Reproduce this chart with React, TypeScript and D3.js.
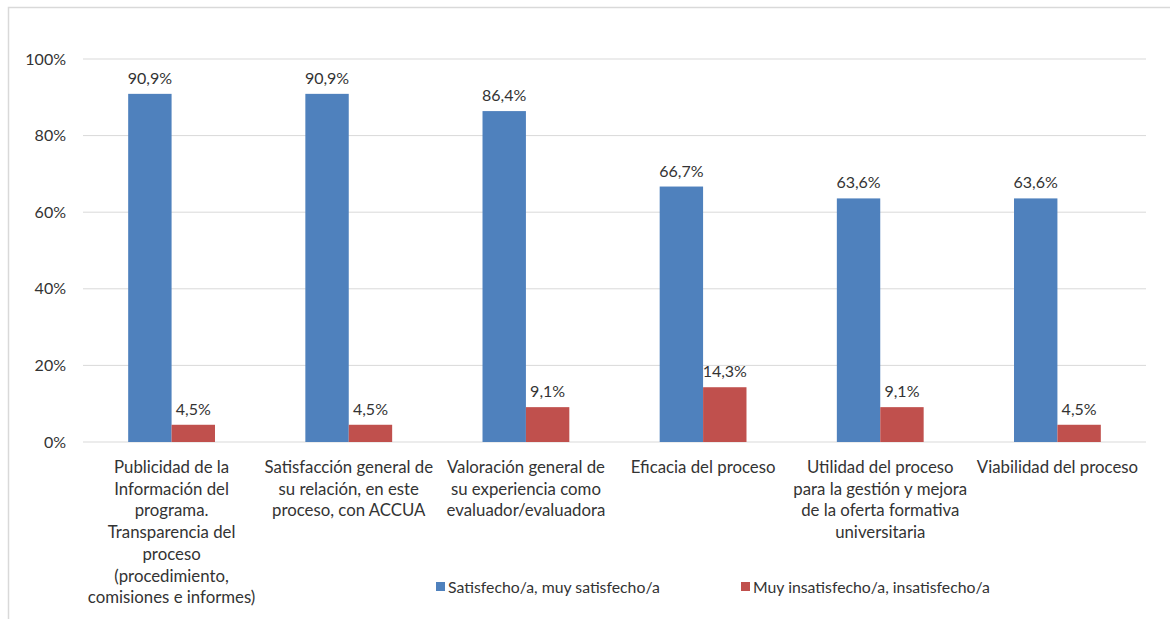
import React from "react";
import * as d3 from "d3";

const categories: string[][] = [
  ["Publicidad de la", "Información del", "programa.", "Transparencia del", "proceso", "(procedimiento,", "comisiones e informes)"],
  ["Satisfacción general de", "su relación, en este", "proceso, con ACCUA"],
  ["Valoración general de", "su experiencia como", "evaluador/evaluadora"],
  ["Eficacia del proceso"],
  ["Utilidad del proceso", "para la gestión y mejora", "de la oferta formativa", "universitaria"],
  ["Viabilidad del proceso"],
];
const satisfied = [90.9, 90.9, 86.4, 66.7, 63.6, 63.6];
const unsatisfied = [4.5, 4.5, 9.1, 14.3, 9.1, 4.5];
const seriesNames = ["Satisfecho/a, muy satisfecho/a", "Muy insatisfecho/a, insatisfecho/a"];
const yTicks = [0, 20, 40, 60, 80, 100];

const W = 1170, H = 619;
const left = 83, right = 1146, top = 59, bottom = 442;
const colors = ["#4f81bd", "#c0504d"];
const font = "Lato, 'Open Sans', sans-serif";
const textColor = "#333";

export default function App() {
  const idx = categories.map((_, i) => String(i));
  const x = d3.scaleBand().domain(idx).range([left, right]).paddingInner(0.51).paddingOuter(0.255);
  const y = d3.scaleLinear().domain([0, 100]).range([bottom, top]);
  const bw = x.bandwidth() / 2;
  const fmt = (v: number) => v.toFixed(1).replace(".", ",") + "%";
  const series = [satisfied, unsatisfied];
  const step = (right - left) / categories.length;
  return (
    <svg width={W} height={H} style={{ position: "absolute", left: 0, top: 0, display: "block" }}>
      <rect x={0} y={0} width={W} height={H} fill="#fff" />
      <rect x={8.5} y={7.5} width={W} height={H} fill="none" stroke="#d9d9d9" strokeWidth={1.5} />
      {yTicks.map((t) => (
        <g key={t}>
          <line x1={left} x2={right} y1={y(t)} y2={y(t)} stroke="#d9d9d9" strokeWidth={1} />
          <text x={66} y={y(t)} dy="0.35em" textAnchor="end" fontFamily={font} fontSize={16} fill={textColor}>
            {t + "%"}
          </text>
        </g>
      ))}
      {series.map((vals, s) =>
        vals.map((v, i) => {
          const bx = (x(String(i)) as number) + s * bw;
          return (
            <g key={s + "-" + i}>
              <rect x={bx} y={y(v)} width={bw} height={bottom - y(v)} fill={colors[s]} />
              <text x={bx + bw / 2} y={y(v) - 10} textAnchor="middle" fontFamily={font} fontSize={16} fill={textColor}>
                {fmt(v)}
              </text>
            </g>
          );
        })
      )}
      {categories.map((lines, i) => {
        const cx = left + step * (i + 0.5);
        return (
          <text key={i} x={cx} y={473} textAnchor="middle" fontFamily={font} fontSize={16.8} fill={textColor}>
            {lines.map((l, j) => (
              <tspan key={j} x={cx} dy={j === 0 ? 0 : 21.7}>{l}</tspan>
            ))}
          </text>
        );
      })}
      {seriesNames.map((n, s) => {
        const lx = s === 0 ? 436 : 741;
        return (
          <g key={n}>
            <rect x={lx} y={582} width={9} height={9} fill={colors[s]} />
            <text x={lx + 12} y={587} dy="0.35em" fontFamily={font} fontSize={15.8} fill={textColor}>{n}</text>
          </g>
        );
      })}
    </svg>
  );
}
